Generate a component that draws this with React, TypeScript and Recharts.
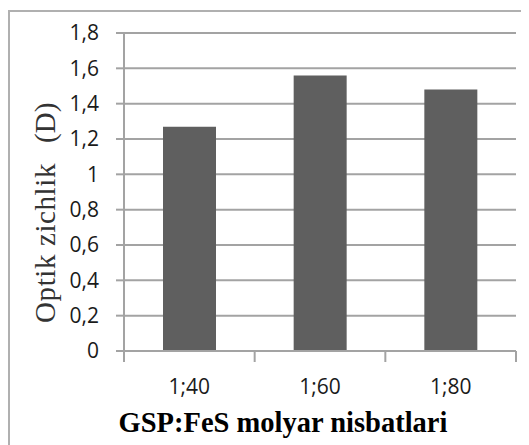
import React from "react";
import { BarChart, Bar, XAxis, YAxis, CartesianGrid, Label } from "recharts";

const categories = ["1;40", "1;60", "1;80"];
const values = [1.27, 1.56, 1.48];
const yTicks = [0, 0.2, 0.4, 0.6, 0.8, 1, 1.2, 1.4, 1.6, 1.8];
const yTitleMain = "Optik zichlik";
const yTitleUnit = "(D)";
const xTitle = "GSP:FeS molyar nisbatlari";

const data = categories.map((c, i) => ({ name: c, value: values[i] }));

const W = 521;
const H = 437;
const M = { top: 25, right: 13, bottom: 0, left: 0 };
const YW = 116;
const XH = 94;
const PLOT_W = W - M.left - M.right - YW;
const GRID = "#a3a3a3";
const TICK_FONT = "'Open Sans', sans-serif";
const SERIF = "'Liberation Serif', 'Times New Roman', serif";

const fmt = (v: number) => String(Math.round(v * 10) / 10).replace(".", ",");

const XTick = (props: any) => {
  const { x, y, payload, index } = props;
  const band = PLOT_W / categories.length;
  const axisY = y;
  return (
    <g>
      <line x1={x - band / 2} x2={x - band / 2} y1={axisY} y2={axisY + 11} stroke={GRID} strokeWidth={2} />
      {index === categories.length - 1 && (
        <line x1={x + band / 2} x2={x + band / 2} y1={axisY} y2={axisY + 11} stroke={GRID} strokeWidth={2} />
      )}
      <text x={x} y={axisY + 43} textAnchor="middle" fontFamily={TICK_FONT} fontSize={21} fill="#1a1a1a">
        {payload.value}
      </text>
    </g>
  );
};

export default function App() {
  return (
    <div style={{ position: "relative", width: W, height: H, overflow: "hidden", background: "#fff" }}>
      <div
        style={{
          position: "absolute",
          left: 0,
          top: 2,
          width: W + 40,
          height: H + 40,
          border: "2px solid #b0b0b0",
          boxSizing: "border-box",
        }}
      />
      <div style={{ position: "absolute", left: 0, top: 0 }}>
        <BarChart width={W} height={H} data={data} margin={M} barSize={53}>
          <CartesianGrid vertical={false} stroke={GRID} strokeWidth={2} />
          <XAxis
            dataKey="name"
            height={XH}
            axisLine={{ stroke: GRID, strokeWidth: 2 }}
            tickLine={false}
            tickSize={0}
            tickMargin={0}
            tick={<XTick />}
            interval={0}
          >
            <Label
              content={(p: any) => {
                const vb = p.viewBox;
                return (
                  <text
                    x={vb.x + 159}
                    y={vb.y + 81}
                    textAnchor="middle"
                    fontFamily={SERIF}
                    fontWeight="bold"
                    fontSize={28.5}
                    fill="#000"
                  >
                    {xTitle}
                  </text>
                );
              }}
            />
          </XAxis>
          <YAxis
            width={YW}
            domain={[0, 1.8]}
            ticks={yTicks}
            interval={0}
            tickFormatter={fmt}
            axisLine={{ stroke: GRID, strokeWidth: 2 }}
            tickLine={{ stroke: GRID, strokeWidth: 2 }}
            tickSize={8}
            tickMargin={17}
            tick={{ fontFamily: TICK_FONT, fontSize: 21, fill: "#1a1a1a" }}
          >
            <Label
              content={(p: any) => {
                const vb = p.viewBox;
                const cx = 37;
                const cy = vb.y + vb.height - 28;
                return (
                  <text
                    x={cx}
                    y={cy}
                    transform={`rotate(-90 ${cx} ${cy})`}
                    textAnchor="start"
                    dominantBaseline="central"
                    fontFamily={SERIF}
                    fontSize={29}
                    fill="#333"
                  >
                    <tspan letterSpacing={0.6}>{yTitleMain}</tspan>
                    <tspan dx={20}>{yTitleUnit}</tspan>
                  </text>
                );
              }}
            />
          </YAxis>
          <Bar dataKey="value" fill="#5f5f5f" isAnimationActive={false} />
        </BarChart>
      </div>
    </div>
  );
}
